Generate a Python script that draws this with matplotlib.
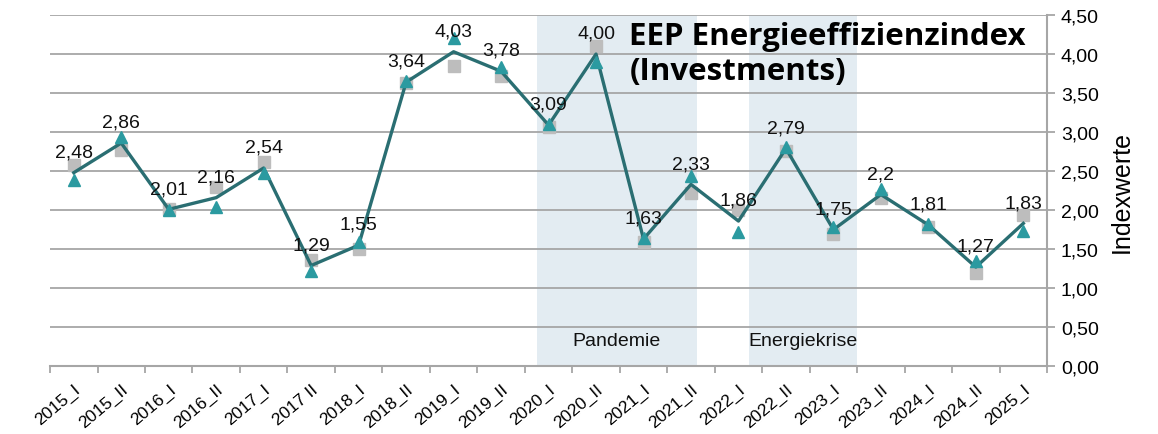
import numpy as np
import matplotlib
matplotlib.use("Agg")
import matplotlib.pyplot as plt

plt.rcParams['font.family'] = ['Liberation Sans', 'DejaVu Sans']

periods = ["2015_I", "2015_II", "2016_I", "2016_II", "2017_I", "2017 II",
           "2018_I", "2018_II", "2019_I", "2019_II", "2020_I", "2020_II",
           "2021_I", "2021_II", "2022_I", "2022_II", "2023_I", "2023_II",
           "2024_I", "2024_II", "2025_I"]
index_values = [2.48, 2.86, 2.01, 2.16, 2.54, 1.29, 1.55, 3.64, 4.03, 3.78, 3.09,
                4.00, 1.63, 2.33, 1.86, 2.79, 1.75, 2.2, 1.81, 1.27, 1.83]
triangle_values = [2.38, 2.94, 2.00, 2.04, 2.47, 1.22, 1.59, 3.66, 4.21, 3.83, 3.10,
                   3.90, 1.64, 2.44, 1.72, 2.81, 1.78, 2.27, 1.82, 1.35, 1.73]
square_values = [2.58, 2.77, 2.02, 2.29, 2.62, 1.36, 1.50, 3.63, 3.85, 3.72, 3.07,
                 4.10, 1.59, 2.22, 2.00, 2.76, 1.69, 2.15, 1.78, 1.20, 1.94]
value_labels = ["2,48", "2,86", "2,01", "2,16", "2,54", "1,29", "1,55", "3,64", "4,03",
                "3,78", "3,09", "4,00", "1,63", "2,33", "1,86", "2,79", "1,75", "2,2",
                "1,81", "1,27", "1,83"]
# shaded periods (in category units)
phases = [("Pandemie", 9.75, 13.12), ("Energiekrise", 14.22, 16.49)]

LINE_COLOR = "#2a6e72"
TRI_COLOR = "#2b9aa0"
SQ_COLOR = "#bdbdbd"
GRID_COLOR = "#a6a6a6"
SHADE_COLOR = "#e3ecf2"

fig = plt.figure(figsize=(11.58, 4.35), dpi=100)
ax = fig.add_axes([0.0432, 0.156, 0.8610, 0.807])

x = np.arange(len(periods))

for name, x0, x1 in phases:
    ax.axvspan(x0, x1, ymin=0, ymax=1, color=SHADE_COLOR, zorder=0, lw=0)
    ax.text((x0 + x1) / 2, 0.33, name, ha='center', va='center', fontsize=14, color="#111111", zorder=5)

for yv in np.arange(0.5, 4.51, 0.5):
    ax.axhline(yv, color=GRID_COLOR, lw=1.3, zorder=1)

ax.plot(x, square_values, ls='none', marker='s', ms=8, color=SQ_COLOR, zorder=2)
ax.plot(x, index_values, color=LINE_COLOR, lw=2.4, zorder=3)
ax.plot(x, triangle_values, ls='none', marker='^', ms=9, color=TRI_COLOR, zorder=4)

for xi, v, lab in zip(x, index_values, value_labels):
    ax.annotate(lab, (xi, v), xytext=(0, 15), textcoords='offset points',
                ha='center', va='center', fontsize=14, color="#111111", zorder=6)

ax.set_xlim(-0.5, len(periods) - 0.5)
ax.set_ylim(0, 4.5)

ax.set_xticks(np.arange(-0.5, len(periods), 1.0))
ax.set_xticklabels([])
ax.set_xticks(x, minor=True)
ax.set_xticklabels(periods, minor=True, rotation=40, ha='right', rotation_mode='anchor', fontsize=12.5)
ax.tick_params(axis='x', which='major', length=5, color=GRID_COLOR, width=1.3)
ax.tick_params(axis='x', which='minor', length=0, pad=11)

ax.yaxis.tick_right()
ax.yaxis.set_label_position("right")
ax.set_yticks(np.arange(0, 4.51, 0.5))
ax.set_yticklabels([f"{v:.2f}".replace(".", ",") for v in np.arange(0, 4.51, 0.5)], fontsize=14)
ax.tick_params(axis='y', length=6, color=GRID_COLOR, width=1.3, pad=4)
ax.set_ylabel("Indexwerte", fontsize=18, labelpad=8)

for side in ("left", "top"):
    ax.spines[side].set_visible(False)
for side in ("right", "bottom"):
    ax.spines[side].set_color(GRID_COLOR)
    ax.spines[side].set_linewidth(1.5)

ax.text(11.7, 4.42, "EEP Energieeffizienzindex\n(Investments)", ha='left', va='top',
        fontsize=22.5, fontweight='bold', family=['Open Sans', 'DejaVu Sans'],
        linespacing=1.2, zorder=7)

fig.savefig("out.png", dpi=100)
